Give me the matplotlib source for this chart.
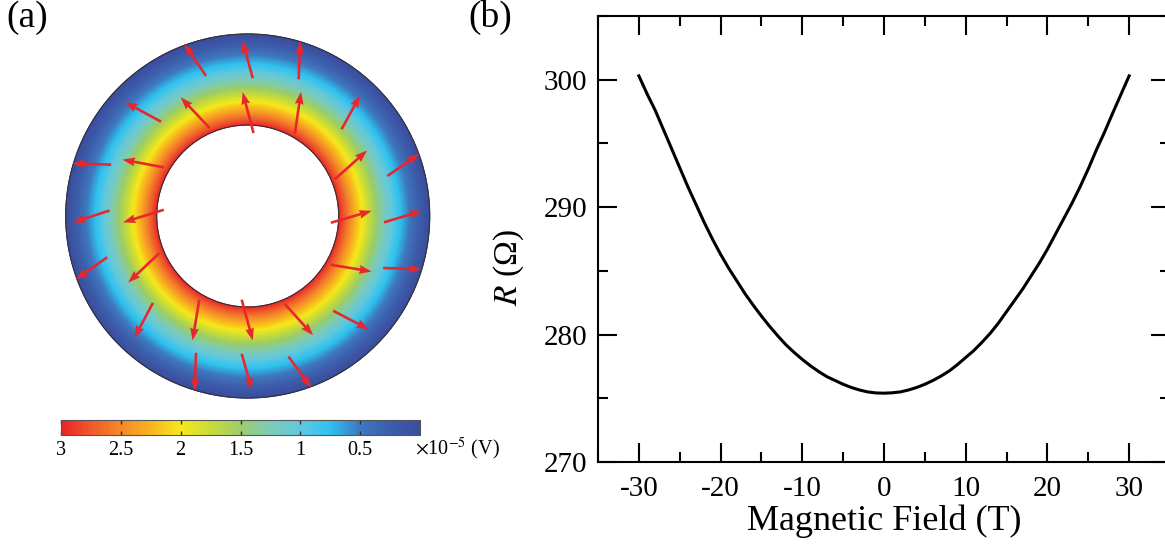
import numpy as np
import matplotlib.pyplot as plt
from matplotlib.colors import LinearSegmentedColormap, Normalize
from matplotlib.cm import ScalarMappable
from matplotlib.patches import Circle
from matplotlib.ticker import MultipleLocator

plt.rcParams['font.family'] = ['Liberation Serif', 'DejaVu Serif']
plt.rcParams['mathtext.fontset'] = 'stix'
plt.rcParams['axes.unicode_minus'] = False

# ---- (b) magnetoresistance ----
field = list(range(-30, 31))
resistance = [300.3, 298.9, 297.6, 296.1, 294.6, 293.1, 291.6, 290.2, 288.8, 287.5,
              286.3, 285.2, 284.2, 283.2, 282.3, 281.45, 280.65, 279.9, 279.2, 278.6,
              278.05, 277.55, 277.1, 276.7, 276.4, 276.1, 275.85, 275.65, 275.5, 275.42,
              275.4,
              275.43, 275.5, 275.65, 275.85, 276.1, 276.4, 276.75, 277.15, 277.65, 278.2,
              278.75, 279.4, 280.1, 280.9, 281.8, 282.7, 283.6, 284.6, 285.6, 286.7,
              287.9, 289.1, 290.3, 291.6, 293.0, 294.5, 295.9, 297.4, 298.85, 300.3]

# ---- (a) potential in the ring (x1e-5 V) ----
v_inner = 3.0
v_outer = 0.0
r_inner = 0.5
r_outer = 1.0
cbar_ticks = [3, 2.5, 2, 1.5, 1, 0.5]
cbar_labels = ['3', '2.5', '2', '1.5', '1', '0.5']

# current density arrows: tail position and vector
arrow_x = [-0.229, 0.028, 0.280, -0.476, -0.210, 0.032, 0.259, 0.516, -0.750, -0.461,
           0.479, 0.768, -0.759, -0.461, 0.457, 0.749, -0.772, -0.486, 0.457, 0.744,
           -0.521, -0.266, -0.033, 0.204, 0.470, -0.284, -0.033, 0.224]
arrow_y = [0.770, 0.757, 0.751, 0.518, 0.484, 0.456, 0.453, 0.477, 0.282, 0.267,
           0.202, 0.220, 0.030, 0.034, -0.037, -0.035, -0.227, -0.204, -0.268, -0.286,
           -0.478, -0.460, -0.460, -0.484, -0.521, -0.752, -0.757, -0.772]
arrow_u = [-0.121, -0.056, 0.009, -0.199, -0.158, -0.060, 0.034, 0.102, -0.214, -0.227,
           0.177, 0.173, -0.201, -0.224, 0.224, 0.209, -0.173, -0.171, 0.224, 0.210,
           -0.102, -0.037, 0.061, 0.155, 0.196, -0.007, 0.056, 0.125]
arrow_v = [0.177, 0.205, 0.210, 0.108, 0.168, 0.225, 0.229, 0.186, 0.007, 0.043,
           0.158, 0.121, -0.065, -0.069, 0.065, 0.063, -0.121, -0.162, -0.037, -0.006,
           -0.192, -0.224, -0.224, -0.171, -0.102, -0.210, -0.199, -0.171]

cmap = LinearSegmentedColormap.from_list('ring', [
    (0.0, '#3b4d9e'), (0.25 / 3, '#3c5eab'), (0.5 / 3, '#3f78bf'),
    (0.75 / 3, '#2ec2f0'), (1.0 / 3, '#62c8df'), (1.25 / 3, '#7dcbb8'),
    (1.5 / 3, '#9ccd6b'), (1.75 / 3, '#c9dc3a'), (2.0 / 3, '#f6e91b'),
    (2.25 / 3, '#f9b51f'), (2.5 / 3, '#f5892a'), (2.75 / 3, '#ee5a2b'),
    (1.0, '#ec2227')])

W, H = 1165, 544


def box(x0, y0, x1, y1):
    return [x0 / W, 1 - y1 / H, (x1 - x0) / W, (y1 - y0) / H]


fig = plt.figure(figsize=(W / 100, H / 100), dpi=100)

# ---- panel (a) ----
ax1 = fig.add_axes(box(47.7, 16, 447.7, 416))
lim = 200 / 182
ax1.set_xlim(-lim, lim)
ax1.set_ylim(-lim, lim)
ax1.axis('off')

rr, th = np.meshgrid(np.linspace(r_inner, r_outer, 120), np.linspace(0, 2 * np.pi, 361))
pot = v_outer + (v_inner - v_outer) * np.log(r_outer / rr) / np.log(r_outer / r_inner)
ax1.pcolormesh(rr * np.cos(th), rr * np.sin(th), pot, cmap=cmap, vmin=0, vmax=3,
               shading='gouraud', rasterized=True)
ax1.add_patch(Circle((0, 0), r_outer, fill=False, ec='#333333', lw=0.8))
ax1.add_patch(Circle((0, 0), r_inner, fill=False, ec='#333333', lw=0.8))
ax1.quiver(arrow_x, arrow_y, arrow_u, arrow_v, angles='xy', scale_units='xy', scale=1,
           color='#e8262b', width=0.0065, headwidth=3.4, headlength=4.8,
           headaxislength=4.4, zorder=3)

cax = fig.add_axes(box(61, 420, 420, 435))
cb = fig.colorbar(ScalarMappable(Normalize(0, 3), cmap), cax=cax, orientation='horizontal')
cax.invert_xaxis()
cb.set_ticks(cbar_ticks)
cb.set_ticklabels(cbar_labels)
cax.tick_params(direction='in', length=3, width=1, color='#333333', top=True,
                bottom=True, labelsize=14.5, pad=4)
cb.outline.set_edgecolor('#555555')
cb.outline.set_linewidth(0.8)
fig.text(415 / W, 1 - 449 / H, r'$\times$10$^{-5}$ (V)', fontsize=14.5, ha='left', va='center')

fig.text(6 / W, 1.0, '(a)', fontsize=27, ha='left', va='top')
fig.text(468 / W, 1.0, '(b)', fontsize=27, ha='left', va='top')

# ---- panel (b) ----
ax2 = fig.add_axes(box(598, 16, 1170, 462))
ax2.plot(field, resistance, color='k', lw=2.2)
ax2.set_xlim(-35, 35)
ax2.set_ylim(270, 305)
ax2.xaxis.set_major_locator(MultipleLocator(10))
ax2.xaxis.set_minor_locator(MultipleLocator(5))
ax2.yaxis.set_major_locator(MultipleLocator(10))
ax2.yaxis.set_minor_locator(MultipleLocator(5))
ax2.tick_params(which='both', direction='in', top=True, right=True, width=1.5, labelsize=21)
ax2.tick_params(which='major', length=13.5)
ax2.tick_params(which='minor', length=7)
ax2.tick_params(axis='x', pad=10)
ax2.tick_params(axis='y', pad=8)
for s in ax2.spines.values():
    s.set_linewidth(1.5)
ax2.set_xlabel('Magnetic Field (T)', fontsize=26, labelpad=2)
ax2.set_ylabel(r'$R$ (Ω)', fontsize=24)
ax2.yaxis.set_label_coords(-0.125, 0.435)

fig.savefig('out.png', dpi=100)
